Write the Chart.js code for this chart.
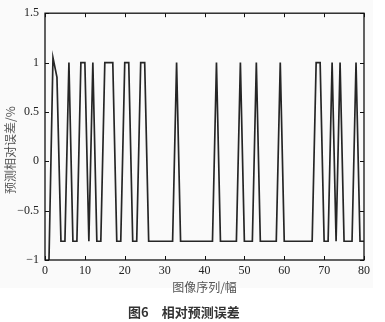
<!DOCTYPE html>
<html>
<head>
<meta charset="utf-8">
<script src="https://cdn.jsdelivr.net/npm/chart.js@4"></script>
<style>
html,body{margin:0;padding:0;background:#fff;}
#wrap{position:relative;width:385px;height:322px;overflow:hidden;background:#fff;}
#c{position:absolute;left:0;top:0;}
#ytitle{position:absolute;left:-52.5px;top:143px;width:120px;height:14px;line-height:14px;text-align:center;
  font:12px "Noto Sans CJK SC";color:#555;transform:rotate(-90deg);white-space:nowrap;}
#caption{position:absolute;left:128px;top:302px;height:16px;line-height:16px;
  font:bold 13px "Noto Sans CJK SC";color:#333;white-space:pre;}
</style>
</head>
<body>
<div id="wrap">
  <canvas id="c" width="385" height="322"></canvas>
  <div id="ytitle">预测相对误差/%</div>
  <div id="caption">图6　相对预测误差</div>
</div>
<script>
// frame index (x) and relative prediction error (y)
const frames = [1,2,3,4,5,6,7,8,9,10,11,12,13,14,15,16,17,18,19,20,
  21,22,23,24,25,26,27,28,29,30,31,32,33,34,35,36,37,38,39,40,
  41,42,43,44,45,46,47,48,49,50,51,52,53,54,55,56,57,58,59,60,
  61,62,63,64,65,66,67,68,69,70,71,72,73,74,75,76,77,78,79,80];
const errors = [-1,1.05,0.85,-0.81,-0.81,1,-0.81,-0.81,1,1,
  -0.81,1,-0.81,-0.81,1,1,1,-0.81,-0.81,1,
  1,-0.81,-0.81,1,1,-0.81,-0.81,-0.81,-0.81,-0.81,
  -0.81,-0.81,1,-0.81,-0.81,-0.81,-0.81,-0.81,-0.81,-0.81,
  -0.81,-0.81,1,-0.81,-0.81,-0.81,-0.81,-0.81,1,-0.81,
  -0.81,-0.81,1,-0.81,-0.81,-0.81,-0.81,-0.81,1,-0.81,
  -0.81,-0.81,-0.81,-0.81,-0.81,-0.81,-0.81,1,1,-0.81,
  -0.81,1,-0.81,1,-0.81,-0.81,-0.81,1,-0.81,-0.81];
const xTicks = [0,10,20,30,40,50,60,70,80];
const yTicks = [-1,-0.5,0,0.5,1,1.5];
const xTitle = '图像序列/幅';

const points = frames.map((f,i)=>({x:f, y:errors[i]}));

const framePlugin = {
  id:'frame',
  beforeDraw(chart){
    const ctx = chart.ctx;
    ctx.save();
    ctx.fillStyle = '#fafafa';
    ctx.fillRect(0,0,373,288);
    ctx.restore();
  },
  afterDatasetsDraw(chart){
    const {ctx, chartArea:a, scales:{x,y}} = chart;
    ctx.save();
    ctx.strokeStyle = '#111';
    ctx.lineWidth = 1.3;
    ctx.strokeRect(a.left, a.top, a.right-a.left, a.bottom-a.top);
    ctx.beginPath();
    xTicks.forEach(v=>{
      const px = Math.round(x.getPixelForValue(v))+0.5;
      ctx.moveTo(px,a.bottom); ctx.lineTo(px,a.bottom-4);
      ctx.moveTo(px,a.top); ctx.lineTo(px,a.top+4);
    });
    yTicks.forEach(v=>{
      const py = Math.round(y.getPixelForValue(v))+0.5;
      ctx.moveTo(a.left,py); ctx.lineTo(a.left+4,py);
      ctx.moveTo(a.right,py); ctx.lineTo(a.right-4,py);
    });
    ctx.lineWidth = 1;
    ctx.stroke();
    ctx.restore();
  }
};

const tickFont = {family:'"Liberation Serif"', size:12};
const fmt = v => v < 0 ? '\u2212' + Math.abs(v) : String(v);

new Chart(document.getElementById('c'), {
  type:'line',
  data:{datasets:[{
    data:points,
    borderColor:'#262626',
    borderWidth:1.7,
    pointRadius:0,
    tension:0,
    fill:false
  }]},
  options:{
    responsive:false,
    animation:false,
    events:[],
    layout:{padding:{left:0,top:9,right:21,bottom:0}},
    plugins:{legend:{display:false},tooltip:{enabled:false}},
    scales:{
      x:{
        type:'linear', min:0, max:80,
        afterFit:s=>{s.height=62;},
        afterBuildTicks:s=>{s.ticks = xTicks.map(v=>({value:v}));},
        grid:{display:false, drawTicks:false},
        border:{display:false},
        ticks:{font:tickFont, color:'#222', padding:4, maxRotation:0, autoSkip:false, callback:fmt},
        title:{display:true, text:xTitle, color:'#555',
          font:{family:'"Noto Sans CJK SC"', size:12}, padding:{top:0,bottom:27.8}}
      },
      y:{
        type:'linear', min:-1, max:1.5,
        afterFit:s=>{s.width=45;},
        afterBuildTicks:s=>{s.ticks = yTicks.map(v=>({value:v}));},
        grid:{display:false, drawTicks:false},
        border:{display:false},
        ticks:{font:tickFont, color:'#222', padding:6, autoSkip:false, callback:fmt}
      }
    }
  },
  plugins:[framePlugin]
});
</script>
</body>
</html>
